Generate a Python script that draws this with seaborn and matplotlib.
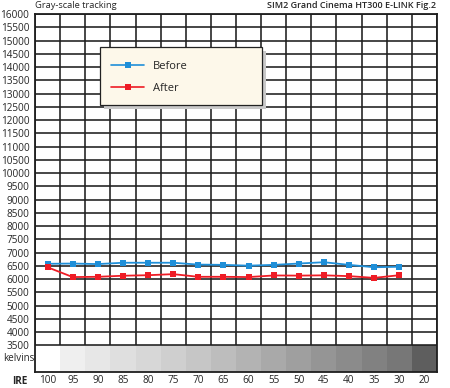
import numpy as np
import pandas as pd
import matplotlib
matplotlib.use("Agg")
import matplotlib.pyplot as plt
from matplotlib.patches import Rectangle
from matplotlib.lines import Line2D
import seaborn as sns

# ---- data ----
ire_labels = ["100", "95", "90", "85", "80", "75", "70", "65", "60",
              "55", "50", "45", "40", "35", "30", "20"]
before = [6580, 6590, 6570, 6620, 6620, 6620, 6550, 6540, 6510,
          6540, 6590, 6640, 6540, 6450, 6470]
after = [6450, 6080, 6090, 6130, 6150, 6190, 6090, 6090, 6080,
         6140, 6135, 6145, 6115, 6050, 6150]
band_grays = ["#ffffff", "#efefef", "#e7e7e7", "#dfdfdf", "#d7d7d7",
              "#cfcfcf", "#c6c6c6", "#bdbdbd", "#b3b3b3", "#a9a9a9",
              "#9f9f9f", "#959595", "#8b8b8b", "#818181", "#777777",
              "#5e5e5e"]
y_ticks = list(range(3500, 16001, 500))

BLUE = "#1f8fd8"
RED = "#ee1c25"
GRID = "#1e1e1e"

sns.set_theme(style="white")
plt.rcParams["font.family"] = ["Open Sans", "DejaVu Sans"]

n = len(ire_labels)
df = pd.DataFrame({
    "pos": list(range(len(before))) * 2,
    "kelvin": before + after,
    "series": ["Before"] * len(before) + ["After"] * len(after),
})

fig = plt.figure(figsize=(4.5, 3.88), dpi=100)
ax = fig.add_axes([35 / 450, 1 - 372 / 388, 402 / 450, 358 / 388])

# gray-scale band under the grid
ax.bar(range(n), 1000, bottom=2500, width=1.0, color=band_grays,
       edgecolor="none", zorder=0)

# grid
ax.hlines(y_ticks, -0.5, n - 0.5, color=GRID, lw=1.15, zorder=1)
ax.vlines(np.arange(-0.5, n), 3500, 16000, color=GRID, lw=1.15, zorder=1)

sns.lineplot(data=df, x="pos", y="kelvin", hue="series", style="series",
             palette={"Before": BLUE, "After": RED},
             markers={"Before": "s", "After": "s"}, dashes=False,
             markersize=5, markeredgewidth=0, linewidth=1.3,
             legend=False, ax=ax, zorder=3)

ax.set_xlim(-0.5, n - 0.5)
ax.set_ylim(2500, 16000)
ax.set_yticks(y_ticks)
ax.set_yticklabels([str(v) for v in y_ticks], fontsize=7.2)
ax.set_xticks(range(n))
ax.set_xticklabels(ire_labels, fontsize=7.2)
ax.tick_params(axis="both", length=0)
ax.tick_params(axis="y", pad=4)
ax.tick_params(axis="x", pad=2)
ax.set_xlabel(""); ax.set_ylabel("")
for sp in ax.spines.values():
    sp.set_color(GRID)
    sp.set_linewidth(1.3)

# side labels
ax.text(0.0, 3000, "kelvins", transform=ax.get_yaxis_transform(),
        ha="right", va="center", fontsize=7)
ax.text(-0.018, -0.027, "IRE", transform=ax.transAxes, ha="right",
        va="center", fontsize=7.2, fontweight="bold")

# titles
fig.text(35 / 450, 1 - 6 / 388, "Gray-scale tracking", ha="left",
         va="center", fontsize=6.7)
fig.text(436 / 450, 1 - 6 / 388, "SIM2 Grand Cinema HT300 E-LINK Fig.2",
         ha="right", va="center", fontsize=6.5, fontweight="semibold")

# legend box with shadow
bx, by, bw, bh = 100 / 450, 1 - 105 / 388, 162 / 450, 58 / 388
fig.patches.append(Rectangle((bx + 4 / 450, by - 4 / 388), bw, bh,
                             transform=fig.transFigure, facecolor="#c9c9c9",
                             edgecolor="none", zorder=4))
fig.patches.append(Rectangle((bx, by), bw, bh, transform=fig.transFigure,
                             facecolor="#fdf8ea", edgecolor="#222222",
                             lw=0.9, zorder=5))
handles = [
    Line2D([], [], color=BLUE, marker="s", markersize=4.5, mew=0, lw=1.2),
    Line2D([], [], color=RED, marker="s", markersize=4.5, mew=0, lw=1.2),
]
leg = fig.legend(handles, ["Before", "After"], loc="upper left",
                 bbox_to_anchor=(bx + 1 / 450, by + bh - 4 / 388),
                 frameon=False, fontsize=8, handlelength=3.0,
                 handletextpad=0.8, labelspacing=1.0)
leg.set_zorder(6)

fig.savefig("out.png", dpi=100)
